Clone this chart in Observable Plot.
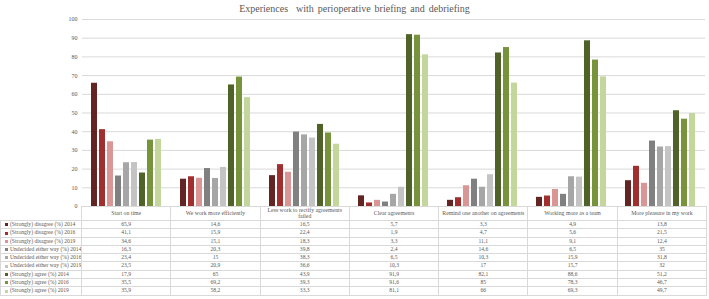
<!DOCTYPE html>
<html>
<head>
<meta charset="utf-8">
<script src="https://cdn.jsdelivr.net/npm/d3@7"></script>
<script src="https://cdn.jsdelivr.net/npm/@observablehq/plot@0.6"></script>
<style>
  html, body { margin: 0; padding: 0; background: #fff; }
  #wrap { position: relative; width: 709px; height: 299px; overflow: hidden; font-family: "Liberation Serif", "Times New Roman", serif; }
  #title { position: absolute; left: 0; top: 3px; width: 709px; text-align: center; font-size: 10px; color: #595959; word-spacing: 1.5px; }
  #chart { position: absolute; left: 0; top: 0; }
  #tbl { position: absolute; left: 0; top: 206px; border-collapse: collapse; table-layout: fixed; color: #595959; }
  #tbl td { border: 1px solid #d9d9d9; padding: 0; text-align: center; font-size: 5.6px; height: 7.3px; line-height: 7.3px; white-space: nowrap; overflow: hidden; }
  #tbl td.lab { text-align: left; padding-left: 4px; }
  #tbl tr.head td { height: 13px; line-height: 5.6px; font-size: 5.8px; white-space: normal; vertical-align: middle; padding: 0 2px; }
  #tbl tr.head td.blank { border: none; border-right: 1px solid #d9d9d9; }
  .key { display: inline-block; width: 3px; height: 3px; margin-right: 2px; vertical-align: middle; }
</style>
</head>
<body>
<div id="wrap">
  <div id="chart"></div>
  <div id="title">Experiences&nbsp; with perioperative briefing and debriefing</div>
  <table id="tbl"></table>
</div>
<script>
const categories = ["Start on time", "We work more efficiently", "Less work to rectify agreements failed", "Clear agreements", "Remind one another on agreements", "Working more as a team", "More pleasure in my work"];
const seriesNames = [
  "(Strongly) disagree (%) 2014", "(Strongly) disagree (%) 2016", "(Strongly) disagree (%) 2019",
  "Undecided either way (%) 2014", "Undecided either way (%) 2016", "Undecided either way (%) 2019",
  "(Strongly) agree (%) 2014", "(Strongly) agree (%) 2016", "(Strongly) agree (%) 2019"
];
const disagree2014 = [65.9, 14.6, 16.5, 5.7, 3.3, 4.9, 13.8];
const disagree2016 = [41.1, 15.9, 22.4, 1.9, 4.7, 5.6, 21.5];
const disagree2019 = [34.6, 15.1, 18.3, 3.3, 11.1, 9.1, 12.4];
const undecided2014 = [16.3, 20.3, 39.8, 2.4, 14.6, 6.5, 35];
const undecided2016 = [23.4, 15, 38.3, 6.5, 10.3, 15.9, 31.8];
const undecided2019 = [23.5, 20.9, 36.6, 10.3, 17, 15.7, 32];
const agree2014 = [17.9, 65, 43.9, 91.9, 82.1, 88.6, 51.2];
const agree2016 = [35.5, 69.2, 39.3, 91.6, 85, 78.3, 46.7];
const agree2019 = [35.9, 58.2, 33.3, 81.1, 66, 69.3, 49.7];
const seriesValues = [disagree2014, disagree2016, disagree2019, undecided2014, undecided2016, undecided2019, agree2014, agree2016, agree2019];
const yTicks = [0, 10, 20, 30, 40, 50, 60, 70, 80, 90, 100];
const colors = ["#632523", "#a0302f", "#da9694", "#808080", "#a6a6a6", "#c4c4c4", "#4f6228", "#77933c", "#c3d69b"];

const rows = [];
seriesNames.forEach((s, i) => categories.forEach((c, j) => rows.push({category: c, series: s, value: seriesValues[i][j]})));

const chart = Plot.plot({
  width: 709, height: 212,
  marginTop: 19, marginBottom: 6, marginLeft: 81, marginRight: 3,
  style: {fontFamily: "Liberation Serif, serif", fontSize: "6px", color: "#595959", background: "transparent"},
  fx: {domain: categories, padding: 0, axis: null, label: null},
  x: {domain: seriesNames, paddingInner: 0.2, paddingOuter: 0.9, axis: null, label: null},
  y: {domain: [0, 100], axis: null, label: null},
  color: {domain: seriesNames, range: colors},
  marks: [
    Plot.gridY(yTicks, {stroke: "#d9d9d9", strokeOpacity: 1}),
    Plot.axisY(yTicks, {tickSize: 0, tickPadding: 5, fill: "#595959", fontSize: 6, label: null}),
    Plot.barY(rows, {fx: "category", x: "series", y: "value", fill: "series"})
  ]
});
document.getElementById("chart").appendChild(chart);

// data table below the chart
const fmt = v => String(v).replace(".", ",");
const tbl = d3.select("#tbl");
const cg = tbl.append("colgroup");
cg.append("col").style("width", "81px");
categories.forEach(() => cg.append("col").style("width", "89.3px"));
tbl.style("width", (81 + 89.3 * 7) + "px");
const head = tbl.append("tr").attr("class", "head");
head.append("td").attr("class", "blank");
categories.forEach(c => head.append("td").text(c));
seriesNames.forEach((s, i) => {
  const tr = tbl.append("tr");
  const td = tr.append("td").attr("class", "lab");
  td.append("span").attr("class", "key").style("background", colors[i]);
  td.append("span").text(s);
  seriesValues[i].forEach(v => tr.append("td").text(fmt(v)));
});
</script>
</body>
</html>
